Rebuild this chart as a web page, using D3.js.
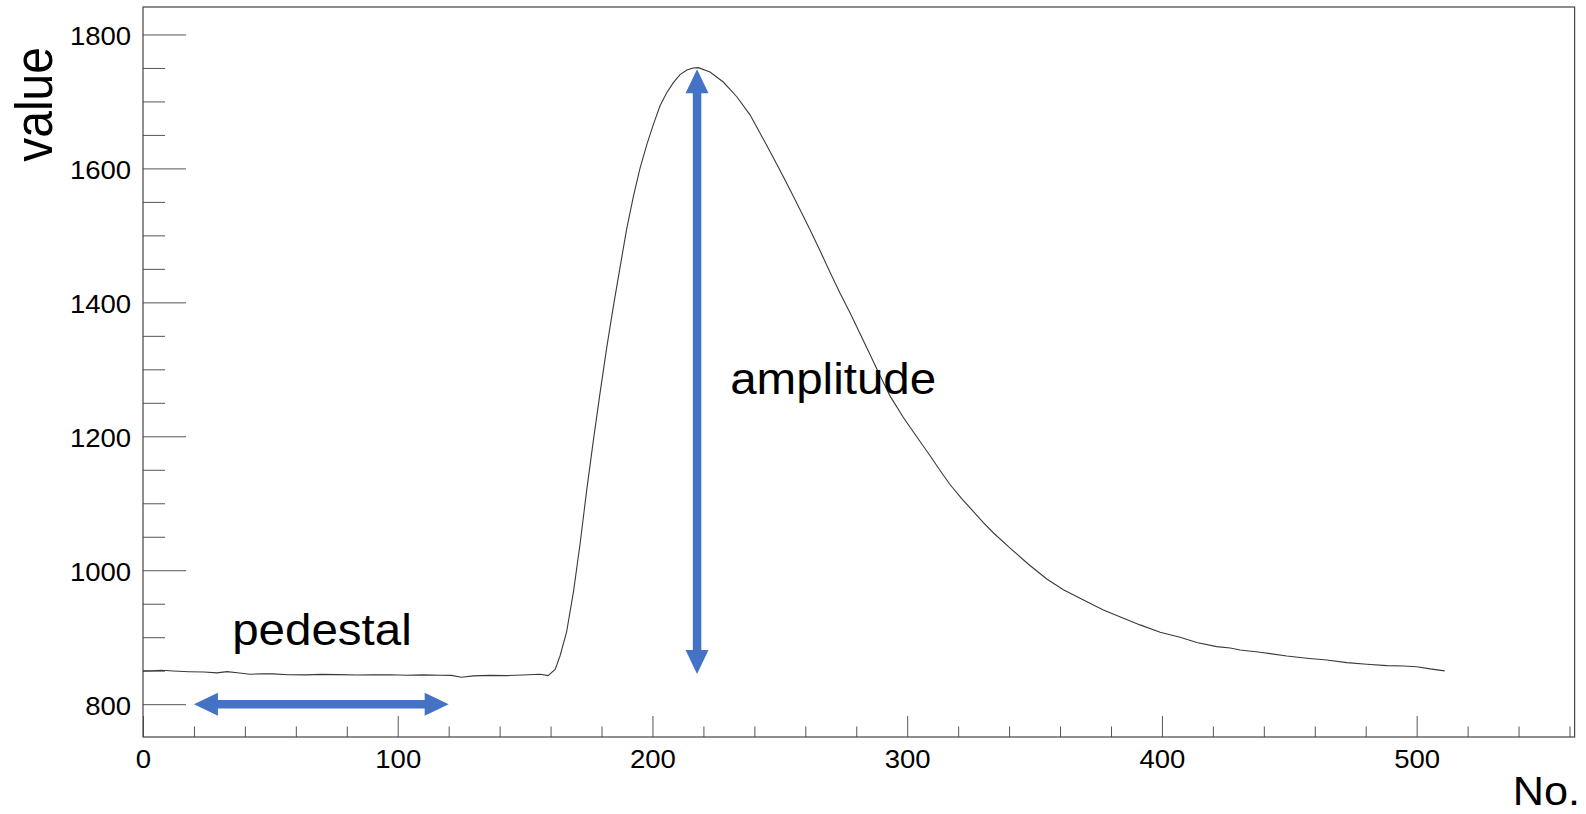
<!DOCTYPE html>
<html>
<head>
<meta charset="utf-8">
<script src="https://cdn.jsdelivr.net/npm/d3@7"></script>
<style>
  body { margin: 0; background: #fff; }
  svg { display: block; font-family: "Liberation Sans", Arial, Helvetica, sans-serif; }
</style>
</head>
<body>
<div id="chart"></div>
<script>
// waveform samples
var sampleNo = [0, 4, 7, 12, 18, 24, 29, 33, 37, 42, 47, 51, 57, 64, 70, 77, 84, 90, 97, 103.5,
    110, 116.6, 121, 125, 129.7, 136, 142.8, 149, 155.9, 159, 161.8, 163.7, 166.3, 169, 171.6, 174.2, 176.8, 179.4, 182.1, 184.7,
    187.3, 189.9, 192.5, 195.1, 197.8, 200.4, 203, 205.6, 208.2, 210.8, 213.5, 216, 218, 222.6, 227.8, 233.1, 238.3, 242.2, 246.2, 250.1,
    254, 258, 261.9, 265.8, 269.7, 273.6, 277.6, 281.5, 285.4, 289.4, 293.3, 298.5, 303.8, 309, 312.9, 316.8, 321.4, 325.4, 329.9, 333.8,
    340.4, 347.6, 354.8, 361.3, 369.2, 377, 384.9, 391.4, 399.3, 407.1, 413.7, 421.5, 426.8, 430.7, 438.6, 449, 456.9, 464.7, 472.6, 480.4,
    488.3, 495, 500, 505.3, 511];
var sampleValue = [849.7, 850, 850.7, 849.5, 848.5, 848, 846.7, 848.6, 847, 844.8, 845.5, 845.2, 844, 843.7, 844.5, 844.2, 843.5, 843.7, 844, 843.3,
    843.8, 843.3, 843, 840.3, 842.2, 843, 842.7, 843.5, 844.8, 842.7, 852, 872, 908, 968, 1040, 1120, 1194, 1264, 1334, 1395,
    1453, 1510, 1558, 1600, 1636, 1666, 1694, 1713, 1728, 1740, 1747, 1750, 1750.5, 1744, 1729, 1707, 1680, 1653, 1625, 1597,
    1568, 1538, 1508, 1477, 1445, 1414, 1384, 1353, 1322, 1290, 1260, 1228, 1199, 1171, 1149, 1128, 1107, 1090, 1071, 1056,
    1033, 1009, 987, 971, 955.6, 940.7, 928.4, 918.4, 907.5, 900, 892, 886, 884, 881, 877.6, 872, 868.7, 866, 862, 859.7,
    857.6, 857, 856, 852.7, 849.7];

var xTicks = [0, 100, 200, 300, 400, 500];
var yTicks = [800, 1000, 1200, 1400, 1600, 1800];

// annotation arrows (data coordinates)
var arrowFromX = [20, 217.5];
var arrowFromY = [800, 845];
var arrowToX = [120, 217.5];
var arrowToY = [800, 1748];
var labelText = ["pedestal", "amplitude"];
var labelX = [35, 230.5];
var labelY = [888, 1263];

var width = 1586, height = 814;
var stretch = 1.08;   // text in the picture is a little wider than tall

var x = d3.scaleLinear().domain([0, 562]).range([143, 1574.6]);
var y = d3.scaleLinear().domain([751, 1841]).range([737, 7]);

var svg = d3.select("#chart").append("svg")
    .attr("width", width)
    .attr("height", height)
    .style("background-color", "#fff");

function styleTicks(g, size) {
    g.select(".domain").remove();
    g.attr("font-family", null).attr("font-size", null);
    g.selectAll(".tick line").attr("stroke", "#555").attr("stroke-width", 1);
    g.selectAll(".tick text")
        .attr("fill", "#000")
        .style("font-size", size + "px")
        .attr("transform", "scale(" + stretch + ",1)");
}

// y axis: minor ticks every 50, major every 200
svg.append("g")
    .attr("transform", "translate(143,0)")
    .call(d3.axisLeft(y)
        .tickValues(d3.range(800, 1801, 50).filter(function(v) { return v % 200 !== 0; }))
        .tickSize(-22)
        .tickFormat(""))
    .call(function(g) { styleTicks(g, 25.5); });

svg.append("g")
    .attr("transform", "translate(143,0)")
    .call(d3.axisLeft(y).tickValues(yTicks).tickSize(-43).tickPadding(11).tickFormat(d3.format("d")))
    .call(function(g) {
        styleTicks(g, 25.5);
        g.selectAll(".tick text").attr("dy", "0.41em");
    });

// x axis: minor ticks every 20, major every 100
svg.append("g")
    .attr("transform", "translate(0,737)")
    .call(d3.axisBottom(x)
        .tickValues(d3.range(0, 561, 20).filter(function(v) { return v % 100 !== 0; }))
        .tickSize(-10.5)
        .tickFormat(""))
    .call(function(g) { styleTicks(g, 25.5); });

svg.append("g")
    .attr("transform", "translate(0,737)")
    .call(d3.axisBottom(x).tickValues(xTicks).tickSize(-21).tickPadding(13).tickFormat(d3.format("d")))
    .call(function(g) { styleTicks(g, 25.5); });

// frame
svg.append("rect")
    .attr("x", x(0))
    .attr("y", y(1841))
    .attr("width", x(562) - x(0))
    .attr("height", y(751) - y(1841))
    .attr("fill", "none")
    .attr("stroke", "#444")
    .attr("stroke-width", 1.2);

// waveform
var line = d3.line()
    .x(function(d, i) { return x(sampleNo[i]); })
    .y(function(d) { return y(d); });

svg.append("path")
    .datum(sampleValue)
    .attr("d", line)
    .attr("fill", "none")
    .attr("stroke", "#3a3a3a")
    .attr("stroke-width", 1.1);

// double headed arrows
var arrows = svg.append("g").attr("class", "arrows");
var headLen = 24, headHalf = 11.5, blue = "#4472C4";

arrowFromX.forEach(function(d, i) {
    var x1 = x(arrowFromX[i]), y1 = y(arrowFromY[i]);
    var x2 = x(arrowToX[i]), y2 = y(arrowToY[i]);
    var len = Math.hypot(x2 - x1, y2 - y1);
    var ux = (x2 - x1) / len, uy = (y2 - y1) / len;

    arrows.append("line")
        .attr("x1", x1 + ux * (headLen - 2))
        .attr("y1", y1 + uy * (headLen - 2))
        .attr("x2", x2 - ux * (headLen - 2))
        .attr("y2", y2 - uy * (headLen - 2))
        .attr("stroke", blue)
        .attr("stroke-width", 8.5);

    [[x1, y1, 1], [x2, y2, -1]].forEach(function(h) {
        var bx = h[0] + ux * headLen * h[2], by = h[1] + uy * headLen * h[2];
        var pts = [[h[0], h[1]], [bx - uy * headHalf, by + ux * headHalf], [bx + uy * headHalf, by - ux * headHalf]];
        arrows.append("path")
            .attr("d", "M" + pts.join("L") + "Z")
            .attr("fill", blue);
    });
});

// annotation labels
svg.selectAll(".label")
    .data(labelText)
    .enter().append("text")
    .attr("class", "label")
    .attr("transform", function(d, i) {
        return "translate(" + x(labelX[i]) + "," + y(labelY[i]) + ") scale(" + stretch + ",1)";
    })
    .style("font-size", "44px")
    .attr("fill", "#000")
    .text(function(d) { return d; });

// axis titles
svg.append("text")
    .attr("transform", "translate(52,47) scale(" + stretch + ",1) rotate(-90)")
    .attr("text-anchor", "end")
    .style("font-size", "48px")
    .text("value");

svg.append("text")
    .attr("transform", "translate(1580,804.5) scale(" + stretch + ",1)")
    .attr("text-anchor", "end")
    .style("font-size", "40px")
    .text("No.");
</script>
</body>
</html>
